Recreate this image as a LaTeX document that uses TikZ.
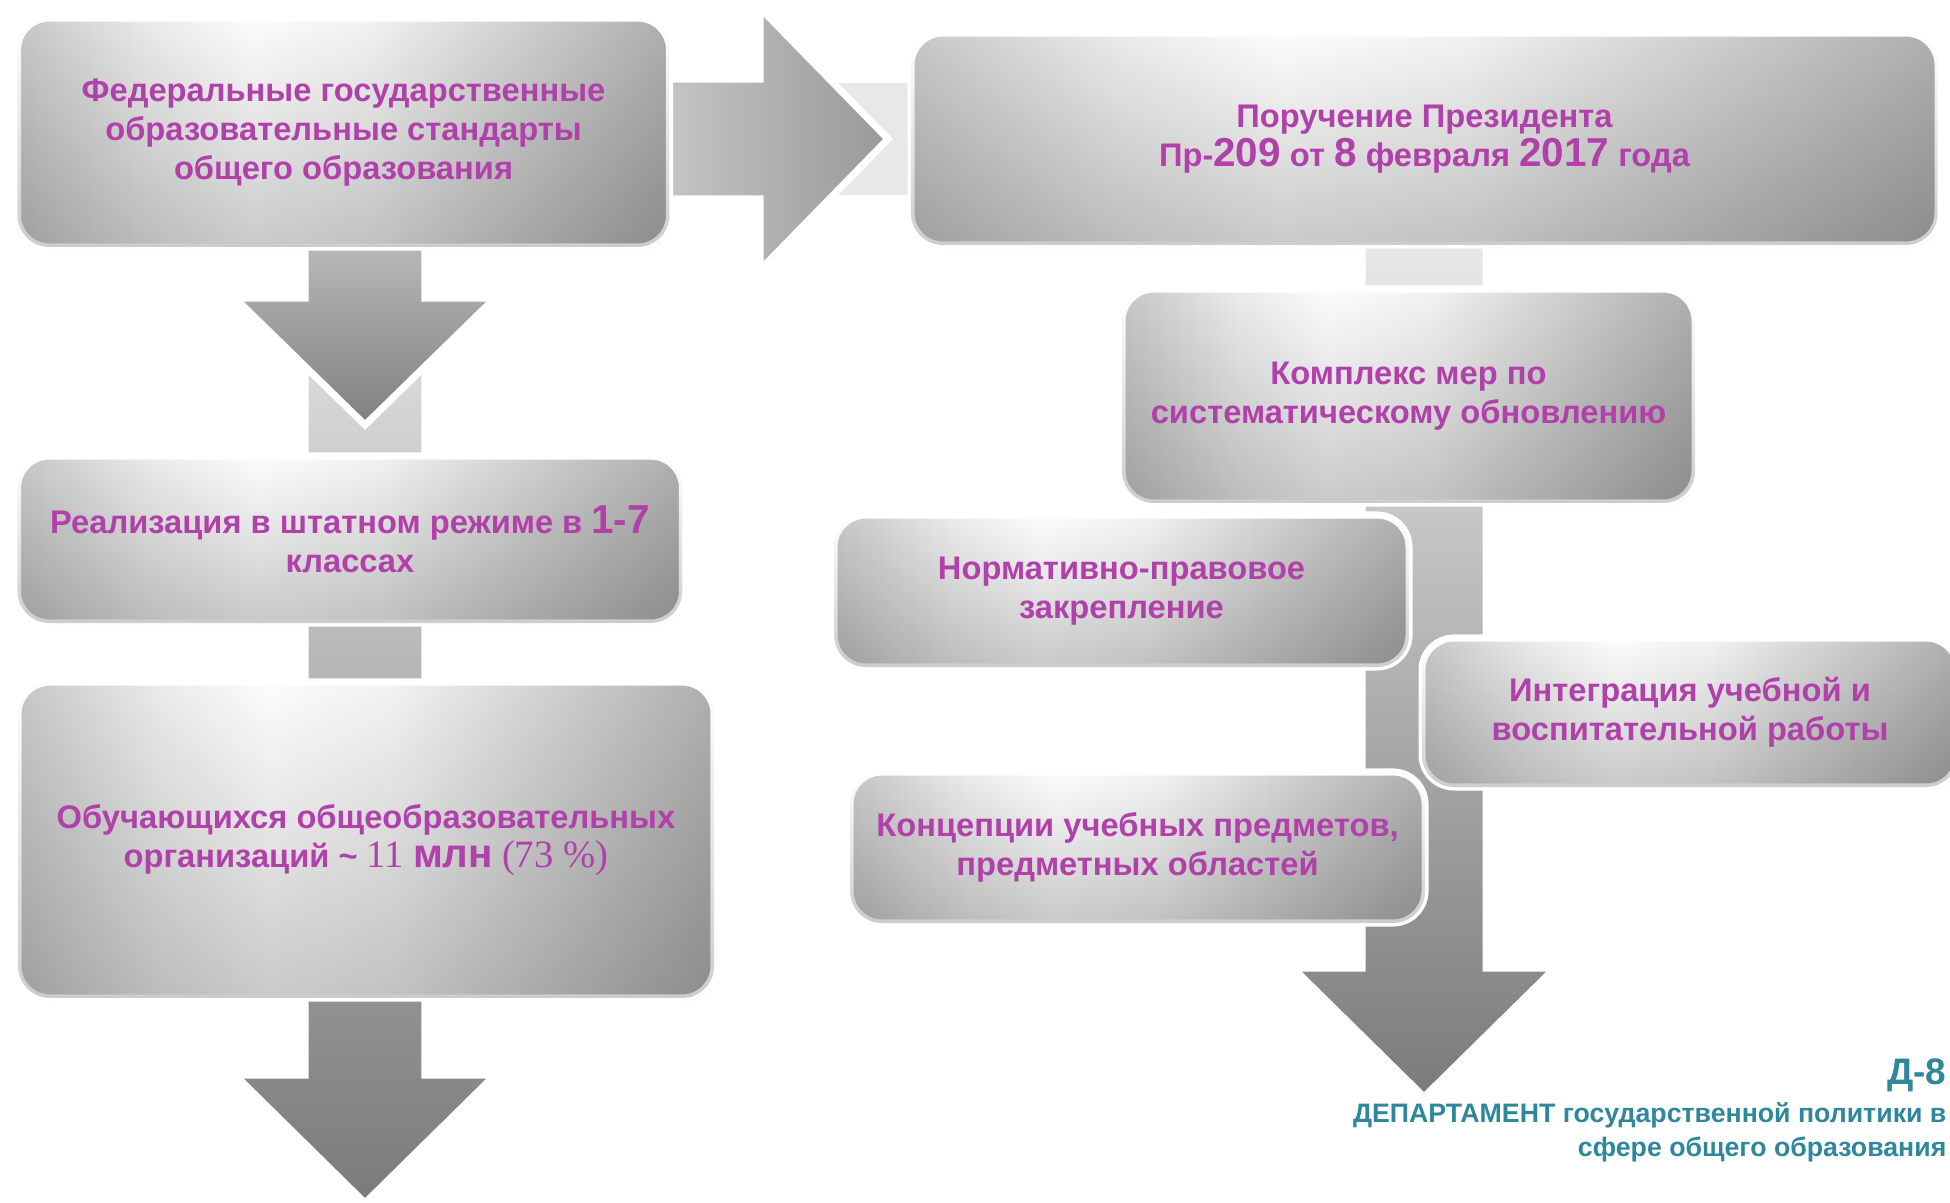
\documentclass[tikz,border=0pt]{standalone}
\usepackage{fontspec}
\setmainfont{Liberation Sans}
\newfontfamily\timesfont{Liberation Serif}
\usetikzlibrary{shadows,calc,backgrounds,fadings}
\definecolor{txt}{RGB}{177, 64, 170}
\definecolor{dep}{RGB}{46, 135, 155}
\newcommand{\krup}[1]{{\fontsize{11.5}{11}\selectfont #1}}
\pgfdeclarehorizontalshading{blokshade}{100bp}{color(0bp)=(black!54); color(12bp)=(black!39);
  color(25bp)=(black!22); color(35bp)=(black!8); color(43bp)=(black!1); color(52bp)=(black!5);
  color(65bp)=(black!20); color(80bp)=(black!37); color(100bp)=(black!54)}

\tikzset{
  blok/.style={rectangle, rounded corners=3.2mm, draw=white, line width=2pt,
    shade, shading=blokshade,
    text=txt, font=\bfseries\fontsize{9.3}{11}\selectfont, align=center, inner sep=0pt,
    drop shadow={shadow xshift=0.5pt, shadow yshift=-0.9pt, fill=black!30, opacity=0.45},
    postaction={fill=black, fill opacity=0.2, path fading=north}},
  strela/.style={draw=white, line width=2pt, line join=miter,
    drop shadow={shadow xshift=0.5pt, shadow yshift=-0.6pt, fill=black!25, opacity=0.4}},
}

\begin{document}
\begin{tikzpicture}[x=0.1mm, y=-0.1mm]
\useasboundingbox (0,0) rectangle (1950,1203);
% левая колонка
\node[blok, minimum width=65.2mm, minimum height=22.9mm] (fgos) at (343.5,132.5)
  {Федеральные государственные\\образовательные стандарты\\общего образования};
\node[blok, minimum width=66.5mm, minimum height=16.7mm] (real) at (350,539.5)
  {Реализация в штатном режиме в \krup{1-7}\\классах};
\node[blok, minimum width=69.6mm, minimum height=31.6mm] (obuch) at (366,840)
  {Обучающихся общеобразовательных\\организаций \textasciitilde{} {\timesfont\mdseries\fontsize{11}{11}\selectfont 11} \krup{млн} {\timesfont\mdseries\fontsize{11}{11}\selectfont (73 \%)}};
% правая колонка
\node[blok, minimum width=102.7mm, minimum height=21.2mm] (poruch) at (1424.5,139)
  {Поручение Президента\\Пр-\krup{209} от \krup{8} февраля \krup{2017} года};
\node[blok, minimum width=57.3mm, minimum height=21.4mm] (kompl) at (1408.5,396)
  {Комплекс мер по\\систематическому обновлению};
\node[blok, minimum width=57.5mm, minimum height=15.2mm] (norm) at (1121.5,591)
  {Нормативно-правовое\\закрепление};
\node[blok, minimum width=53.6mm, minimum height=14.9mm] (integr) at (1690,712.5)
  {Интеграция учебной и\\воспитательной работы};
\node[blok, minimum width=57.5mm, minimum height=15.1mm] (konc) at (1137.5,847.5)
  {Концепции учебных предметов,\\предметных областей};
% подпись
\node[anchor=base east, text=dep, font=\bfseries\fontsize{10.5}{12}\selectfont, inner sep=0pt] (d8) at (1947,1084) {Д-8};
\node[anchor=base east, text=dep, font=\bfseries\fontsize{7.6}{9.4}\selectfont, align=right, inner sep=0pt] (depart) at (1947,1156)
  {ДЕПАРТАМЕНТ государственной политики в\\сфере общего образования};

\coordinate (nizL) at (365,1203);
\coordinate (nizR) at (1424,1097);
\coordinate (t1) at (365,425);
\coordinate (t2) at (888,139);

\begin{scope}[on background layer]
\fill[white] (0,0) rectangle (1950,1203);
% длинная стрелка слева
\draw[strela, top color=black!9, bottom color=black!52]
  ($(fgos.south -| nizL)+(-60,-20)$) -- ($(nizL)+(-60,-128)$) -- ($(nizL)+(-130,-128)$) -- (nizL)
  -- ($(nizL)+(130,-128)$) -- ($(nizL)+(60,-128)$) -- ($(fgos.south -| nizL)+(60,-20)$) -- cycle;
\draw[strela, top color=black!26, bottom color=black!50]
  ($(fgos.south -| t1)+(-60,-20)$) -- ($(t1)+(-60,-127)$) -- ($(t1)+(-130,-127)$) -- (t1)
  -- ($(t1)+(130,-127)$) -- ($(t1)+(60,-127)$) -- ($(fgos.south -| t1)+(60,-20)$) -- cycle;
% стрелка вправо
\draw[strela, fill=black!9] ($(fgos.east |- t2)+(-20,-60)$) rectangle ($(poruch.west |- t2)+(20,60)$);
\draw[strela, left color=black!22, right color=black!40]
  ($(fgos.east |- t2)+(-20,-60)$) -- ($(t2)+(-128,-60)$) -- ($(t2)+(-128,-131)$) -- (t2)
  -- ($(t2)+(-128,131)$) -- ($(t2)+(-128,60)$) -- ($(fgos.east |- t2)+(-20,60)$) -- cycle;
% длинная стрелка справа
\draw[strela, top color=black!8, bottom color=black!52]
  ($(poruch.south -| nizR)+(-62,-20)$) -- ($(nizR)+(-62,-129)$) -- ($(nizR)+(-131,-129)$) -- (nizR)
  -- ($(nizR)+(131,-129)$) -- ($(nizR)+(62,-129)$) -- ($(poruch.south -| nizR)+(62,-20)$) -- cycle;
\end{scope}
\end{tikzpicture}
\end{document}
